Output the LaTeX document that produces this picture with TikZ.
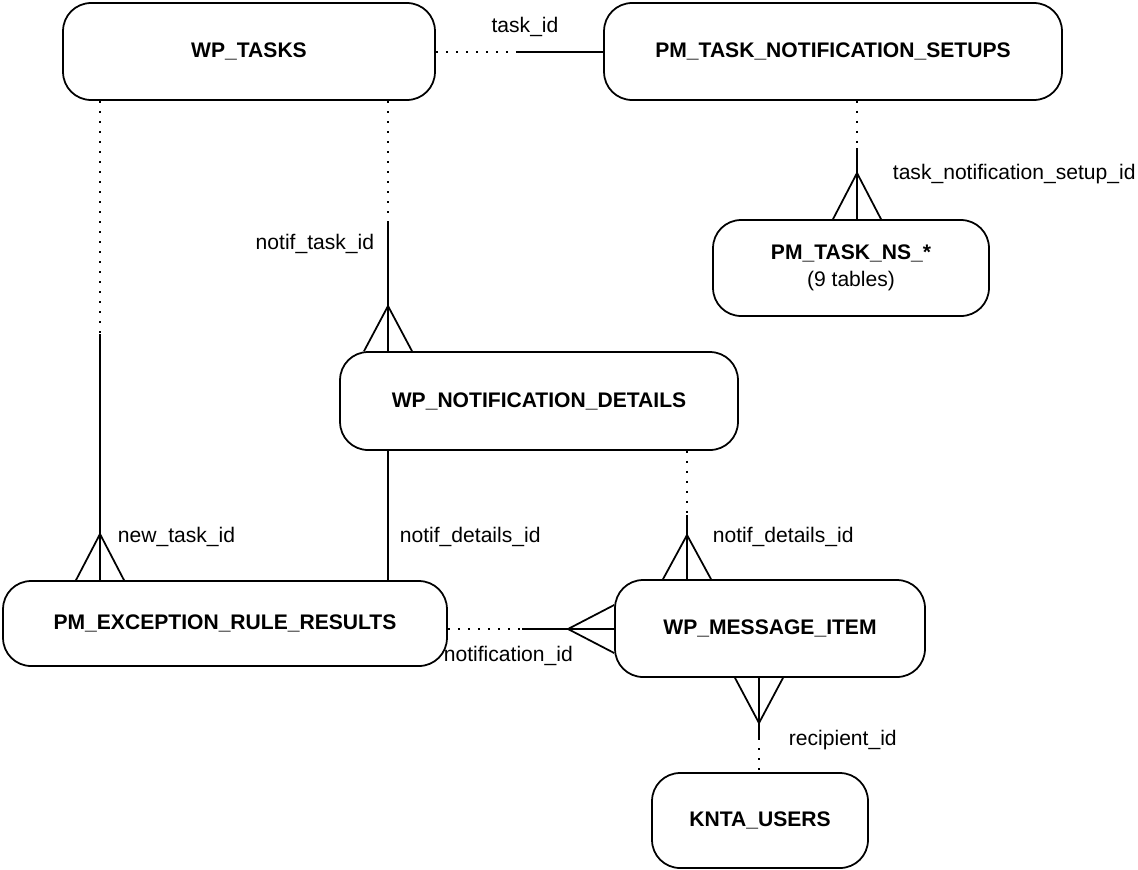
\documentclass[tikz,border=0pt]{standalone}
\usepackage{fontspec}
\setmainfont{Liberation Sans}
\usetikzlibrary{calc}
\begin{document}
\begin{tikzpicture}[x=0.02cm,y=-0.02cm,line width=1pt,font=\fontsize{12}{14.5}\selectfont]
    \tikzstyle{table}=[draw,rectangle,rounded corners=0.56cm,inner sep=0pt,font=\fontsize{12}{14.5}\selectfont\bfseries]
    \tikzstyle{key}=[inner sep=0pt,anchor=base west]
    \tikzstyle{opt}=[dash pattern=on 1pt off 4.7pt]
    \useasboundingbox (0,0) rectangle (1138,869);
    % tables
    \node[table,minimum width=7.44cm,minimum height=1.94cm] (tasks) at (249,51.5) {WP\_TASKS};
    \node[table,minimum width=9.16cm,minimum height=1.94cm] (setups) at (833,51.5) {PM\_TASK\_NOTIFICATION\_SETUPS};
    \node[table,minimum width=5.52cm,minimum height=1.92cm,align=center] (ns) at (851,268) {PM\_TASK\_NS\_*\\[1pt]\mdseries (9 tables)};
    \node[table,minimum width=7.96cm,minimum height=1.96cm] (details) at (539,401) {WP\_NOTIFICATION\_DETAILS};
    \node[table,minimum width=8.88cm,minimum height=1.70cm] (exc) at (225,623.5) {PM\_EXCEPTION\_RULE\_RESULTS};
    \node[table,minimum width=6.2cm,minimum height=1.94cm] (msg) at (770,628.5) {WP\_MESSAGE\_ITEM};
    \node[table,minimum width=4.32cm,minimum height=1.90cm] (users) at (760,820.5) {KNTA\_USERS};
    % break points and crow apexes
    \coordinate (b1) at (518,52);
    \coordinate (b2) at (857,148);
    \coordinate (f2) at (857,173);
    \coordinate (b3) at (388,223);
    \coordinate (f3) at (388,306);
    \coordinate (b4) at (100,334);
    \coordinate (f4) at (100,534);
    \coordinate (b5) at (687,515);
    \coordinate (f5) at (687,535);
    \coordinate (b6) at (522,629);
    \coordinate (f6) at (568,629);
    \coordinate (b7) at (759,738);
    \coordinate (f7) at (759,723);
    % relations
    \draw[opt] (tasks.east |- b1) -- (b1);
    \draw (b1) -- (setups.west |- b1);
    \draw[opt] (setups.south -| b2) -- (b2);
    \draw (b2) -- (ns.north -| b2);
    \draw ($(ns.north -| f2)+(-24,0)$) -- (f2) -- ($(ns.north -| f2)+(24,0)$);
    \draw[opt] (tasks.south -| b3) -- (b3);
    \draw (b3) -- (details.north -| b3);
    \draw ($(details.north -| f3)+(-24,0)$) -- (f3) -- ($(details.north -| f3)+(24,0)$);
    \draw[opt] (tasks.south -| b4) -- (b4);
    \draw (b4) -- (exc.north -| b4);
    \draw ($(exc.north -| f4)+(-24,0)$) -- (f4) -- ($(exc.north -| f4)+(24,0)$);
    \draw (details.south -| b3) -- (exc.north -| b3);
    \draw[opt] (details.south -| b5) -- (b5);
    \draw (b5) -- (msg.north -| b5);
    \draw ($(msg.north -| f5)+(-24,0)$) -- (f5) -- ($(msg.north -| f5)+(24,0)$);
    \draw[opt] (exc.east |- b6) -- (b6);
    \draw (b6) -- (msg.west |- b6);
    \draw ($(msg.west |- f6)+(0,-24)$) -- (f6) -- ($(msg.west |- f6)+(0,24)$);
    \draw (msg.south -| b7) -- (b7);
    \draw[opt] (b7) -- (users.north -| b7);
    \draw ($(msg.south -| f7)+(-24,0)$) -- (f7) -- ($(msg.south -| f7)+(24,0)$);
    % keys
    \node[key,anchor=base] (k1) at (525,32) {task\_id};
    \node[key] (k2) at (892,179) {task\_notification\_setup\_id};
    \node[key,anchor=base east] (k3) at (375,249) {notif\_task\_id};
    \node[key] (k4) at (117,542) {new\_task\_id};
    \node[key] (k5) at (399,542) {notif\_details\_id};
    \node[key] (k6) at (712,542) {notif\_details\_id};
    \node[key] (k7) at (443,661) {notification\_id};
    \node[key] (k8) at (788,745) {recipient\_id};
\end{tikzpicture}
\end{document}
